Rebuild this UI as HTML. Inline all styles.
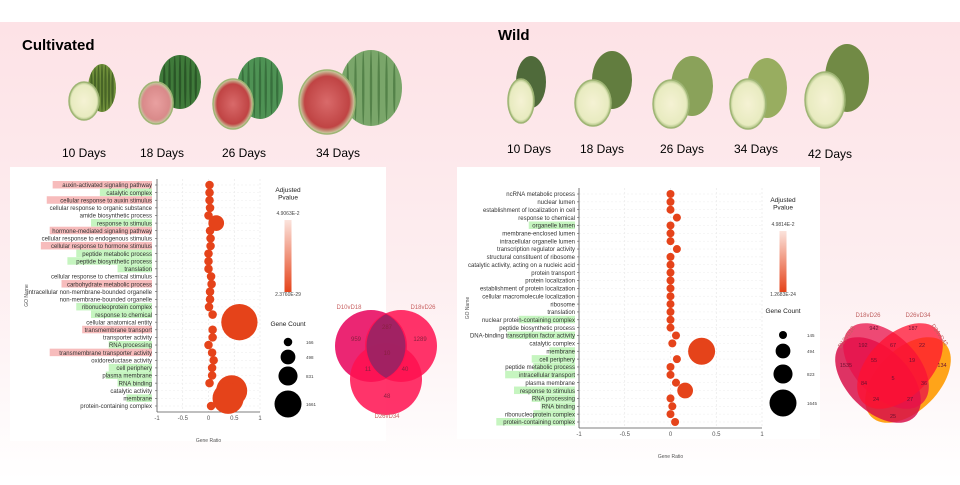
<!DOCTYPE html>
<html><head><meta charset="utf-8">
<style>
html,body{margin:0;padding:0;}
body{width:960px;height:480px;overflow:hidden;font-family:"Liberation Sans",sans-serif;}
svg text{font-family:"Liberation Sans",sans-serif;}
</style></head>
<body>
<svg id="root" width="960" height="480" viewBox="0 0 960 480" xmlns="http://www.w3.org/2000/svg">
<defs>
<linearGradient id="bg" x1="0" y1="0" x2="0" y2="1">
<stop offset="0" stop-color="#fde2e6"/><stop offset="0.55" stop-color="#fdeef0"/><stop offset="1" stop-color="#ffffff"/>
</linearGradient>
<linearGradient id="pv" x1="0" y1="0" x2="0" y2="1">
<stop offset="0" stop-color="#fbe3dc"/><stop offset="1" stop-color="#e5431a"/>
</linearGradient>
<radialGradient id="redflesh"><stop offset="0" stop-color="#d96a6a"/><stop offset="0.8" stop-color="#c04444"/><stop offset="1" stop-color="#c9d8a8"/></radialGradient>
<radialGradient id="paleflesh"><stop offset="0" stop-color="#f5f2d4"/><stop offset="0.85" stop-color="#e8ebc0"/><stop offset="1" stop-color="#a9bf7e"/></radialGradient>
<radialGradient id="pinkflesh"><stop offset="0" stop-color="#e9a0a0"/><stop offset="0.8" stop-color="#d98a8a"/><stop offset="1" stop-color="#bfd3a0"/></radialGradient>
</defs>
<rect x="0" y="0" width="960" height="480" fill="#fff"/>
<rect x="0" y="22" width="960" height="458" fill="url(#bg)"/>
<text x="22" y="50" font-size="15" font-weight="bold">Cultivated</text>
<text x="498" y="40" font-size="15" font-weight="bold">Wild</text>
<g id="melons"></g>
<rect x="10" y="167" width="376" height="274" fill="#fff"/>
<rect x="457" y="167" width="363" height="272" fill="#fff"/>
<g id="left"></g>
<g id="right"></g>
<g id="venn3"></g>
<g id="venn4"></g>
</svg>
<script>
const NS="http://www.w3.org/2000/svg";
function mk(p,t,a,txt){const e=document.createElementNS(NS,t);for(const k in a)e.setAttribute(k,a[k]);if(txt!==undefined)e.textContent=txt;p.appendChild(e);return e;}

// ---------- data ----------
const leftTerms=["auxin-activated signaling pathway","catalytic complex","cellular response to auxin stimulus","cellular response to organic substance","amide biosynthetic process","response to stimulus","hormone-mediated signaling pathway","cellular response to endogenous stimulus","cellular response to hormone stimulus","peptide metabolic process","peptide biosynthetic process","translation","cellular response to chemical stimulus","carbohydrate metabolic process","intracellular non-membrane-bounded organelle","non-membrane-bounded organelle","ribonucleoprotein complex","response to chemical","cellular anatomical entity","transmembrane transport","transporter activity","RNA processing","transmembrane transporter activity","oxidoreductase activity","cell periphery","plasma membrane","RNA binding","catalytic activity","membrane","protein-containing complex"];
const leftHi=["r","g","r","","","g","r","","r","g","g","g","","r","","","g","g","","r","","g","r","","g","g","g","","g",""];
const leftRatio=[0.02,0.02,0.02,0.03,0.0,0.15,0.03,0.04,0.04,0.0,0.0,0.0,0.05,0.06,0.03,0.03,0.01,0.08,0.6,0.08,0.08,0.0,0.07,0.1,0.07,0.07,0.02,0.45,0.38,0.05];
const leftCount=[166,166,166,166,166,560,166,166,166,166,166,166,166,166,166,166,166,166,3000,166,166,166,166,166,166,166,166,2200,2200,166];
const rightTerms=["ncRNA metabolic process","nuclear lumen","establishment of localization in cell","response to chemical","organelle lumen","membrane-enclosed lumen","intracellular organelle lumen","transcription regulator activity","structural constituent of ribosome","catalytic activity, acting on a nucleic acid","protein transport","protein localization","establishment of protein localization","cellular macromolecule localization","ribosome","translation","nuclear protein-containing complex","peptide biosynthetic process","DNA-binding transcription factor activity","catalytic complex","membrane","cell periphery","peptide metabolic process","intracellular transport","plasma membrane","response to stimulus","RNA processing","RNA binding","ribonucleoprotein complex","protein-containing complex"];
const rightHi=["","","","","g","","","","","","","","","","","","g2","","g2","","g","g","g2","g","","g","g","g","g2","g"];
const rightRatio=[0.0,0.0,0.0,0.07,0.0,0.0,0.0,0.07,0.0,0.0,0.0,0.0,0.0,0.0,0.0,0.0,0.0,0.0,0.06,0.02,0.34,0.07,0.0,0.0,0.06,0.16,0.0,0.02,0.0,0.05];
const rightCount=[145,145,145,145,145,145,145,145,145,145,145,145,145,145,145,145,145,145,145,145,1645,145,145,145,145,560,145,145,145,145];
const xTicks=[-1,-0.5,0,0.5,1];
const leftLegendCounts=[166,498,831,1661];
const rightLegendCounts=[145,494,823,1645];
const venn3Labels=["959","1289","48","287","11","40","10"];
const venn4Labels=["1535","942","187","134","192","67","22","55","19","84","36","5","24","27","25"];

// ---------- melons ----------
const M=document.getElementById('melons');
function melon(wx,wy,wrx,wry,cx,cy,crx,cry,skin,stripe,flesh){
  const g=mk(M,'g',{});
  
  
  mk(g,'ellipse',{cx:wx,cy:wy,rx:wrx,ry:wry,fill:skin});
  if(stripe){for(let i=-3;i<=3;i++){mk(g,'ellipse',{cx:wx+i*wrx/4,cy:wy,rx:1.2,ry:wry*Math.sqrt(Math.max(0.05,1-(i/4)*(i/4))),fill:stripe,opacity:0.6});}}
  mk(g,'ellipse',{cx:cx,cy:cy,rx:crx,ry:cry,fill:'url(#'+flesh+')',stroke:'#9fb575','stroke-width':1.5});
}
melon(102,88,14,24,84,101,15,19,'#6f8f3a','#2e4a1a','paleflesh');
melon(180,82,21,27,156,103,17,21,'#3f7a3a','#1d3d1a','pinkflesh');
melon(260,88,23,31,233,104,20,25,'#4e9254','#2a5a2e','redflesh');
melon(371,88,31,38,327,102,28,32,'#7aa66a','#3a6a33','redflesh');
melon(531,82,15,26,521,101,13,22,'#4f6a3a',null,'paleflesh');
melon(612,80,20,29,593,103,18,23,'#627d3f',null,'paleflesh');
melon(692,86,21,30,671,104,18,24,'#8aa25a',null,'paleflesh');
melon(767,88,20,30,748,104,18,25,'#98ad60',null,'paleflesh');
melon(847,78,22,34,825,100,20,28,'#718a45',null,'paleflesh');
const dayLab=[["10 Days",62,157],["18 Days",140,157],["26 Days",222,157],["34 Days",316,157],["10 Days",507,153],["18 Days",580,153],["26 Days",660,153],["34 Days",734,153],["42 Days",808,158]];
dayLab.forEach(d=>{const t=mk(document.getElementById('root'),'text',{x:d[1],y:d[2],'font-size':12},d[0]);});

// ---------- charts ----------
function chart(gid,terms,hi,ratio,count,x0,x1,yTop,yBot,lblRight,leg,legCounts,pTop,pBot,xlabel){
  const G=document.getElementById(gid);
  const xs=v=>x0+(v+1)/2*(x1-x0);
  const step=(yBot-yTop)/(terms.length-1);
  const ys=i=>yTop+i*step;
  const maxC=Math.max(...legCounts);
  const rs=c=>Math.sqrt(c/maxC)*13.5;
  xTicks.forEach(t=>{const l=mk(G,'line',{x1:xs(t),x2:xs(t),y1:yTop-6,y2:yBot+6,stroke:'#e4e4e4','stroke-width':0.6,'stroke-dasharray':'2,2'});});
  terms.forEach((t,i)=>{const l=mk(G,'line',{x1:x0,x2:x1,y1:ys(i),y2:ys(i),stroke:'#ececec','stroke-width':0.5,'stroke-dasharray':'2,2'});});
  const ya=mk(G,'line',{x1:x0,x2:x0,y1:yTop-6,y2:yBot+6,stroke:'#555','stroke-width':0.8});
  
  const xa=mk(G,'line',{x1:x0,x2:x1,y1:yBot+6,y2:yBot+6,stroke:'#555','stroke-width':0.8});
  
  xTicks.forEach(t=>{const tx=mk(G,'text',{x:xs(t),y:yBot+14,'font-size':6,'text-anchor':'middle',fill:'#555'},String(t));});
  terms.forEach((t,i)=>{
    const w=t.length*2.95+2;
    if(hi[i]){const r=mk(G,'rect',{x:hi[i]==='g2'?lblRight-w*0.55:lblRight-w,y:ys(i)-4,width:hi[i]==='g2'?w*0.55:w,height:7.5,fill:hi[i]==='r'?'#f7bcbc':'#c6f5c0'});}
    const tx=mk(G,'text',{x:lblRight,y:ys(i)+2.2,'font-size':6,'text-anchor':'end',fill:'#333'},t);
    
    const tk=mk(G,'line',{x1:x0-2,x2:x0,y1:ys(i),y2:ys(i),stroke:'#555','stroke-width':0.6});
    
  });
  terms.forEach((t,i)=>{const c=mk(G,'circle',{cx:xs(ratio[i]),cy:ys(i),r:Math.max(3.3,rs(count[i])),fill:'#e5431a'});});
  const xt=mk(G,'text',{x:(x0+x1)/2,y:yBot+36,'font-size':5,'text-anchor':'middle',fill:'#555'},xlabel);
  
  const yt=mk(G,'text',{x:0,y:0,'font-size':5,'text-anchor':'middle',fill:'#555',transform:'translate('+(lblRight-leg.yTitleOff)+','+((yTop+yBot)/2)+') rotate(-90)'},'GO Name');
  
  const L=leg;
  const a=mk(G,'text',{x:L.cx,y:L.ty,'font-size':6.5,'text-anchor':'middle',fill:'#222'},'Adjusted');
  
  const b=mk(G,'text',{x:L.cx,y:L.ty+7.5,'font-size':6.5,'text-anchor':'middle',fill:'#222'},'Pvalue');
  
  const p1=mk(G,'text',{x:L.cx,y:L.b0-5,'font-size':5,'text-anchor':'middle',fill:'#444'},pTop);
  
  const bar=mk(G,'rect',{x:L.cx-3.5,y:L.b0,width:7,height:L.b1-L.b0,fill:'url(#pv)'});
  
  const p2=mk(G,'text',{x:L.cx,y:L.b1+4,'font-size':5,'text-anchor':'middle',fill:'#444'},pBot);
  
  const gc=mk(G,'text',{x:L.cx,y:L.gy,'font-size':6.5,'text-anchor':'middle',fill:'#222'},'Gene Count');
  
  legCounts.forEach((c,i)=>{
    const cc=mk(G,'circle',{cx:L.cx,cy:L.cy[i],r:rs(c),fill:'#000'});
    
    const ct=mk(G,'text',{x:L.lx,y:L.cy[i]+2,'font-size':4.5,fill:'#444'},String(c));
    
  });
}
chart('left',leftTerms,leftHi,leftRatio,leftCount,157,260,185,406,152,{cx:288,ty:192,b0:220,b1:292,gy:326,cy:[342,357,376,404],lx:306,yTitleOff:124},leftLegendCounts,'4.9063E-2','2.3760E-29','Gene Ratio');
chart('right',rightTerms,rightHi,rightRatio,rightCount,579,762,194,422,575,{cx:783,ty:202,b0:231,b1:292,gy:313,cy:[335,351,374,403],lx:807,yTitleOff:106},rightLegendCounts,'4.9814E-2','1.2683E-24','Gene Ratio');

// ---------- venn 3 ----------
const V3=document.getElementById('venn3');
[[371,346,'#e8005a'],[401,346,'#ff1050'],[386,379,'#ff1050']].forEach(c=>{const e=mk(V3,'circle',{cx:c[0],cy:c[1],r:36,fill:c[2],opacity:0.85});});
const ov=mk(V3,'path',{d:'M386 314 A36 36 0 0 1 386 378 A36 36 0 0 1 386 314 Z',fill:'#7a2a6a',opacity:0.7});

[["D10vD18",349,309],["D18vD26",423,309],["D26vD34",387,418]].forEach(s=>{const t=mk(V3,'text',{x:s[1],y:s[2],'font-size':6,'text-anchor':'middle',fill:'#c86060'},s[0]);});
const p3=[[356,341],[420,341],[387,398],[387,329],[368,371],[405,371],[387,355]];
venn3Labels.forEach((v,i)=>{const t=mk(V3,'text',{x:p3[i][0],y:p3[i][1],'font-size':6,'text-anchor':'middle',fill:'#8a2040'},v);});

// ---------- venn 4 ----------
const V4=document.getElementById('venn4');
[[908,380,-45,'#ff9a00',0.9],[878,380,45,'#d8104a',0.85],[886,366,45,'#e8104a',0.75],[900,366,-45,'#ff1030',0.75]].forEach(e=>{const el=mk(V4,'ellipse',{cx:e[0],cy:e[1],rx:52,ry:31,fill:e[3],opacity:e[4],transform:'rotate('+e[2]+' '+e[0]+' '+e[1]+')'});});
[["D10vD18",848,338,-55],["D18vD26",868,317,0],["D26vD34",918,317,0],["D34vD42",938,336,55]].forEach(s=>{const t=mk(V4,'text',{x:s[1],y:s[2],'font-size':6,'text-anchor':'middle',fill:'#c06060',transform:'rotate('+s[3]+' '+s[1]+' '+s[2]+')'},s[0]);});
const p4=[[846,367],[874,330],[913,330],[942,367],[863,347],[893,347],[922,347],[874,362],[912,362],[864,385],[924,385],[893,380],[876,401],[910,401],[893,418]];
venn4Labels.forEach((v,i)=>{const t=mk(V4,'text',{x:p4[i][0],y:p4[i][1],'font-size':5.5,'text-anchor':'middle',fill:'#6a1030'},v);});
</script>
</body></html>
